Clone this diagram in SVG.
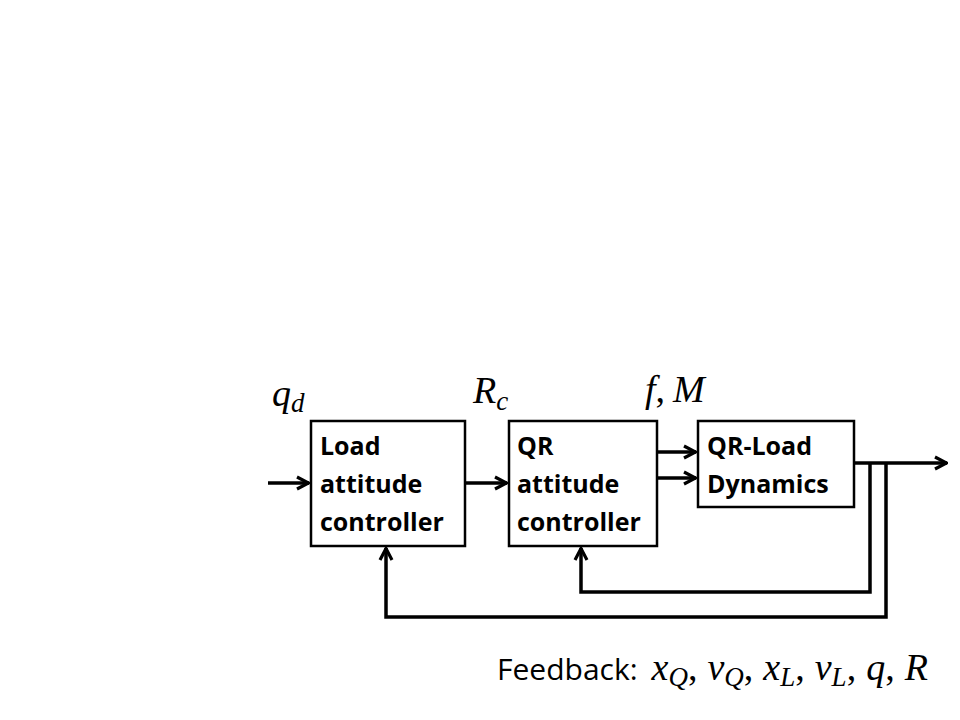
<svg xmlns="http://www.w3.org/2000/svg" width="960" height="720" viewBox="0 0 960 720">
<style>
.box{fill:#fff;stroke:#000;stroke-width:2.5}
.lbl{font-family:"Open Sans","Liberation Sans",sans-serif;font-weight:bold;font-size:25px;fill:#000}
.math{font-family:"Liberation Serif","DejaVu Serif",serif;font-style:italic;font-size:38px;fill:#000}
.sub{font-size:27px}
.up{font-style:normal}
.wire{fill:none;stroke:#000;stroke-width:3.5}
.txt{font-family:"Open Sans","Liberation Sans",sans-serif;font-size:30px;fill:#000}
</style>
<defs>
<marker id="ah" viewBox="0 0 16 16" refX="15" refY="8" markerWidth="16" markerHeight="16" markerUnits="userSpaceOnUse" orient="auto">
<path d="M3,2 L14.5,8 L3,14" fill="none" stroke="#000" stroke-width="3.2"/>
</marker>
</defs>
<rect width="960" height="720" fill="#fff"/>
<g id="connectors">
<line class="wire" x1="268" y1="483" x2="309" y2="483" marker-end="url(#ah)"/>
<line class="wire" x1="466" y1="483" x2="507" y2="483" marker-end="url(#ah)"/>
<line class="wire" x1="657" y1="452" x2="696" y2="452" marker-end="url(#ah)"/>
<line class="wire" x1="657" y1="478" x2="696" y2="478" marker-end="url(#ah)"/>
<line class="wire" x1="854" y1="463" x2="947" y2="463" marker-end="url(#ah)"/>
<polyline class="wire" points="870,463 870,592 581,592 581,548" marker-end="url(#ah)"/>
<polyline class="wire" points="886,463 886,617 386,617 386,548" marker-end="url(#ah)"/>
</g>
<g id="load-controller">
<rect class="box" x="311" y="421" width="154" height="125"/>
<text class="lbl" x="320" y="455">Load</text>
<text class="lbl" x="320" y="493">attitude</text>
<text class="lbl" x="320" y="531">controller</text>
</g>
<g id="qr-controller">
<rect class="box" x="509" y="421" width="148" height="125"/>
<text class="lbl" x="517" y="455">QR</text>
<text class="lbl" x="517" y="493">attitude</text>
<text class="lbl" x="517" y="531">controller</text>
</g>
<g id="dynamics">
<rect class="box" x="698" y="421" width="156" height="86"/>
<text class="lbl" x="707" y="455">QR-Load</text>
<text class="lbl" x="707" y="493">Dynamics</text>
</g>
<g id="labels">
<text class="math" x="272" y="406">q<tspan class="sub" dy="6">d</tspan></text>
<text class="math" x="473" y="403">R<tspan class="sub" dy="7">c</tspan></text>
<text class="math" x="645" y="402">f<tspan class="up">,</tspan><tspan dx="8">M</tspan></text>
<text x="497" y="680"><tspan class="txt" font-size="31">Feedback:</tspan><tspan class="math" font-size="33" dx="14">x<tspan class="sub" font-size="23" dy="6">Q</tspan><tspan class="up" dy="-6">,</tspan><tspan dx="10">v</tspan><tspan class="sub" font-size="23" dy="6">Q</tspan><tspan class="up" dy="-6">,</tspan><tspan dx="10">x</tspan><tspan class="sub" font-size="23" dy="6">L</tspan><tspan class="up" dy="-6">,</tspan><tspan dx="10">v</tspan><tspan class="sub" font-size="23" dy="6">L</tspan><tspan class="up" dy="-6">,</tspan><tspan dx="10">q</tspan><tspan class="up">,</tspan><tspan dx="10">R</tspan></tspan></text>
</g>
</svg>
